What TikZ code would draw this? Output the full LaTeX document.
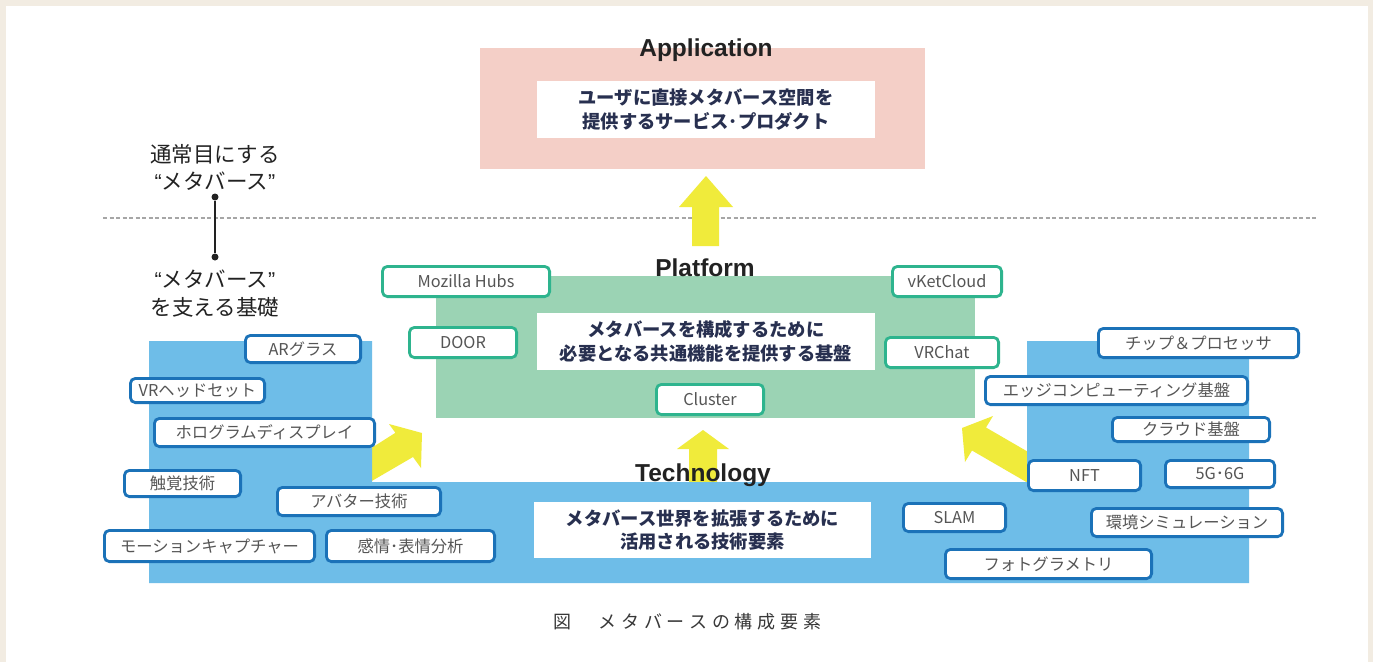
\documentclass[tikz,border=0pt]{standalone}
\usepackage{fontspec}
\setmainfont{Noto Sans CJK JP}
\newfontfamily\en{Liberation Sans}
\definecolor{bgbeige}{HTML}{F2ECE2}
\definecolor{apppink}{HTML}{F4CFC7}
\definecolor{platgreen}{HTML}{9BD3B4}
\definecolor{techblue}{HTML}{6EBDE8}
\definecolor{arrowyel}{HTML}{F0EB3B}
\definecolor{navy}{HTML}{283050}
\definecolor{labgray}{HTML}{555555}
\definecolor{bordblue}{HTML}{1B72B8}
\definecolor{bordgreen}{HTML}{2EB48E}
\definecolor{titlecol}{HTML}{222222}
\newcommand\labbox[7]{\node[#2, minimum width={(#5-#3-2.8)*1pt}, minimum height={(#6-#4-2.8)*1pt}] (#1) at ({(#3+#5)/2},{(#4+#6)/2}) {#7};}
\newcommand\capc[1]{\makebox[22.7pt]{#1}}
\tikzset{
  bbox/.style={draw=bordblue, line width=2.8pt, rounded corners=5pt, fill=white, inner sep=0pt,
    font=\fontsize{16.3}{19}\selectfont, text=labgray},
  gbox/.style={bbox, draw=bordgreen},
  whitebox/.style={fill=white, inner sep=0pt, align=center, text=navy,
    font=\fontsize{18.3}{23.5}\selectfont\bfseries},
  layertitle/.style={anchor=base, text=titlecol, inner sep=0pt, font=\en\fontsize{24.5}{28}\selectfont\bfseries},
  sidetext/.style={text=titlecol, inner sep=0pt, font=\fontsize{21.5}{26}\selectfont},
  dotnode/.style={circle, fill=titlecol, inner sep=0pt, minimum size=7pt},
  yarrow/.style={fill=arrowyel, draw=none},
}
\begin{document}
\begin{tikzpicture}[x=1pt,y=-1pt]
\useasboundingbox (0,0) rectangle (1373,662);
\fill[bgbeige] (0,0) rectangle (1373,662);
\fill[white] (6,6) rectangle (1368,662);

% dashed separator
\draw[gray!70, line width=1.2pt, dash pattern=on 4pt off 2.5pt] (103,218) -- (1318,218);

% layer areas
\fill[apppink] (480,48) rectangle (925,169);
\fill[platgreen] (436,276) rectangle (975,418);

% yellow arrows
\fill[yarrow] (692,246) -- (692,207) -- (679,207) -- (706,176) -- (733,207) -- (719,207) -- (719,246) -- cycle;
\fill[yarrow] (689,482) -- (689,449) -- (677,449) -- (703,430) -- (729,449) -- (717,449) -- (717,482) -- cycle;
\fill[yarrow] (343,466) -- (395.4,432.8) -- (389,424) -- (422,433) -- (421,468) -- (413,457) -- (358,489) -- cycle;
\fill[yarrow] (1055,467.5) -- (986,427.5) -- (993,416) -- (962,428) -- (965,462) -- (972,450.5) -- (1041,490.5) -- cycle;

% technology area
\fill[techblue] (149,341) -- (372,341) -- (372,482) -- (1027,482) -- (1027,341) -- (1249,341) -- (1249,583) -- (149,583) -- cycle;

% white description boxes
\node[whitebox, minimum width=338pt, minimum height=57pt] (appdesc) at (706,109.5) {ユーザに直接メタバース空間を\\提供するサービス･プロダクト};
\node[whitebox, minimum width=338pt, minimum height=57pt] (platdesc) at (706,341.5) {メタバースを構成するために\\必要となる共通機能を提供する基盤};
\node[whitebox, minimum width=337pt, minimum height=56pt] (techdesc) at (702.5,530) {メタバース世界を拡張するために\\活用される技術要素};

% layer titles
\node[layertitle] (apptitle) at (706,56) {Application};
\node[layertitle] (plattitle) at (705,276) {Platform};
\node[layertitle] (techtitle) at (703,481) {Technology};

% left side annotation
\node[sidetext] (s1) at (215,154) {通常目にする};
\node[sidetext] (s2) at (215,181) {{\en “}メタバース{\en ”}};
\node[sidetext] (s3) at (215,279) {{\en “}メタバース{\en ”}};
\node[sidetext] (s4) at (215,307) {を支える基礎};
\node[dotnode] (d1) at (215,197) {};
\node[dotnode] (d2) at (215,257) {};
\draw[titlecol, line width=2pt] (d1) -- (d2);

% platform examples
\labbox{hubs}{gbox}{381}{265}{551}{298}{Mozilla Hubs}
\labbox{vket}{gbox}{891}{265}{1003}{298}{vKetCloud}
\labbox{door}{gbox}{408}{326}{518}{359}{DOOR}
\labbox{vrchat}{gbox}{884}{336}{1000}{369}{VRChat}
\labbox{cluster}{gbox}{655}{383}{765}{416}{Cluster}

% technology examples
\labbox{ar}{bbox}{244}{334}{362}{364}{ARグラス}
\labbox{vrhead}{bbox}{129}{377}{266}{404}{VRヘッドセット}
\labbox{holo}{bbox}{153}{417}{376}{448}{ホログラムディスプレイ}
\labbox{haptic}{bbox}{123}{469}{242}{498}{触覚技術}
\labbox{avatar}{bbox}{276}{486}{442}{517}{アバター技術}
\labbox{mocap}{bbox}{103}{529}{316}{563}{モーションキャプチャー}
\labbox{emotion}{bbox}{325}{529}{496}{563}{感情･表情分析}
\labbox{chip}{bbox}{1097}{327}{1300}{359}{チップ＆プロセッサ}
\labbox{edge}{bbox}{984}{375}{1249}{406}{エッジコンピューティング基盤}
\labbox{cloud}{bbox}{1111}{416}{1271}{443}{クラウド基盤}
\labbox{nft}{bbox}{1027}{459}{1142}{492}{NFT}
\labbox{fiveg}{bbox}{1164}{459}{1276}{489}{5G･6G}
\labbox{slam}{bbox}{902}{502}{1007}{533}{SLAM}
\labbox{envsim}{bbox}{1090}{507}{1284}{538}{環境シミュレーション}
\labbox{photo}{bbox}{944}{548}{1153}{580}{フォトグラメトリ}

% caption
\node[text=titlecol!90, inner sep=0pt, font=\fontsize{18}{22}\selectfont] (caption) at (687.2,622)
  {\capc{図}\capc{}\capc{メ}\capc{タ}\capc{バ}\capc{ー}\capc{ス}\capc{の}\capc{構}\capc{成}\capc{要}\capc{素}};
\end{tikzpicture}
\end{document}
